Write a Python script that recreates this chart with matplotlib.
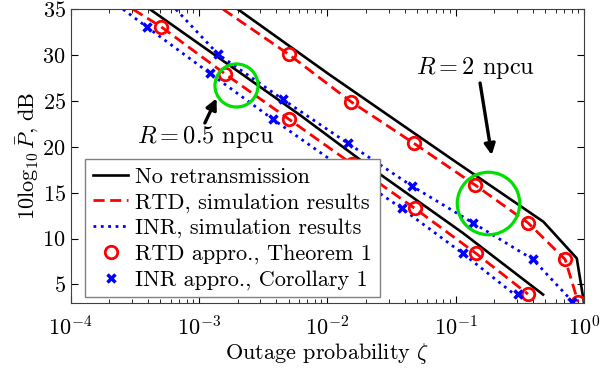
import matplotlib
matplotlib.use("Agg")
import matplotlib.pyplot as plt
import numpy as np

plt.rcParams['font.family'] = ['cmr10', 'DejaVu Serif']
plt.rcParams['mathtext.fontset'] = 'cm'
plt.rcParams['axes.formatter.use_mathtext'] = True

# no retransmission (black)
nr05_x = [4.15e-4, 6.12e-3, 0.0222, 0.114, 0.48]
nr05_y = [35, 23.47, 17.65, 10.60, 3.89]
nr2_x = [2.01e-3, 0.0105, 0.0955, 0.483, 0.879, 1.0]
nr2_y = [35, 27.83, 18.56, 11.83, 7.84, 3.0]

# RTD simulation (red dashed) and approx (circles)
rtd05_x = [3.06e-4, 5.06e-4, 1.6e-3, 5.0e-3, 0.0156, 0.048, 0.144, 0.366]
rtd05_y = [35, 33.1, 27.94, 23.03, 18.12, 13.29, 8.38, 3.94]
rtd2_x = [1.54e-3, 5.0e-3, 0.0153, 0.0474, 0.142, 0.366, 0.713, 0.90]
rtd2_y = [35, 30.09, 24.92, 20.38, 15.83, 11.72, 7.73, 3.07]

# INR simulation (blue dotted) and approx (crosses)
inr05_x = [2.56e-4, 3.9e-4, 1.22e-3, 3.77e-3, 0.0119, 0.038, 0.1135, 0.30]
inr05_y = [35, 33.1, 28.0, 23.0, 18.1, 13.29, 8.38, 3.7]
inr2_x = [6.6e-4, 1.41e-3, 4.49e-3, 0.0145, 0.0457, 0.136, 0.40, 0.83]
inr2_y = [35, 30.09, 25.18, 20.38, 15.72, 11.72, 7.73, 3.0]

inr05_mx = [3.9e-4, 1.22e-3, 3.77e-3, 0.0119, 0.038, 0.1135, 0.307]
inr05_my = [33.1, 28.0, 23.0, 18.1, 13.29, 8.38, 3.94]
inr2_mx = [1.41e-3, 4.49e-3, 0.0145, 0.0457, 0.136, 0.40, 0.807]
inr2_my = [30.09, 25.18, 20.38, 15.72, 11.72, 7.73, 3.07]

fs = 16

fig = plt.figure(figsize=(6.16, 3.68), dpi=100)
ax = fig.add_axes([0.1148, 0.1774, 0.8332, 0.7973])

ax.plot(nr05_x, nr05_y, 'k-', lw=1.9, label='No retransmission')
ax.plot(nr2_x, nr2_y, 'k-', lw=1.9)
ax.plot(rtd05_x, rtd05_y, '--', color='red', lw=2, dashes=(4, 2), label='RTD, simulation results')
ax.plot(rtd2_x, rtd2_y, '--', color='red', lw=2, dashes=(4, 2))
ax.plot(inr05_x, inr05_y, ':', color='blue', lw=2, label='INR, simulation results')
ax.plot(inr2_x, inr2_y, ':', color='blue', lw=2)

ax.plot(rtd05_x[1:], rtd05_y[1:], 'o', color='red', mfc='none', ms=9, mew=2, label='RTD appro., Theorem 1')
ax.plot(rtd2_x[1:], rtd2_y[1:], 'o', color='red', mfc='none', ms=9, mew=2)
ax.plot(inr05_mx, inr05_my, 'x', color='blue', ms=6, mew=2.5, label='INR appro., Corollary 1')
ax.plot(inr2_mx, inr2_my, 'x', color='blue', ms=6, mew=2.5)

# green circles
ax.plot([1.94e-3], [26.74], 'o', mfc='none', mec='#00e000', ms=31, mew=2.3)
ax.plot([0.179], [13.87], 'o', mfc='none', mec='#00e000', ms=45, mew=2.3)

arrow = dict(arrowstyle='-|>', color='k', lw=2.4, mutation_scale=16, shrinkA=0, shrinkB=0)
ax.annotate('', xy=(1.37e-3, 25.29), xytext=(1.11e-3, 22.6), arrowprops=arrow)
ax.text(1.13e-3, 21.1, r'$R = 0.5$ npcu', ha='center', va='center', fontsize=17.5)
ax.annotate('', xy=(0.191, 19.1), xytext=(0.155, 26.96), arrowprops=arrow)
ax.text(0.1416, 28.6, r'$R = 2$ npcu', ha='center', va='center', fontsize=17.5)

ax.set_xscale('log')
ax.set_xlim(1e-4, 1)
ax.set_ylim(3, 35)
ax.set_yticks([5, 10, 15, 20, 25, 30, 35])
ax.tick_params(which='both', direction='in', top=True, right=True, labelsize=fs)
ax.tick_params(which='major', length=5)
ax.tick_params(which='minor', length=3)
ax.tick_params(axis='x', which='major', pad=9)
for s in ax.spines.values():
    s.set_color('#404040')
    s.set_linewidth(0.8)

ax.set_xlabel(r'Outage probability $\zeta$', fontsize=fs, labelpad=1)
ax.set_ylabel(r'$10\log_{10}\bar{P}$, dB', fontsize=fs, labelpad=1)

leg = ax.legend(loc='lower left', bbox_to_anchor=(0.028, 0.018), borderaxespad=0,
                fontsize=fs, handlelength=1.6, handletextpad=0.3, labelspacing=0.26,
                borderpad=0.35, fancybox=False, framealpha=1, edgecolor='#808080')
leg.get_frame().set_linewidth(1)

plt.savefig('out.png', dpi=100)
